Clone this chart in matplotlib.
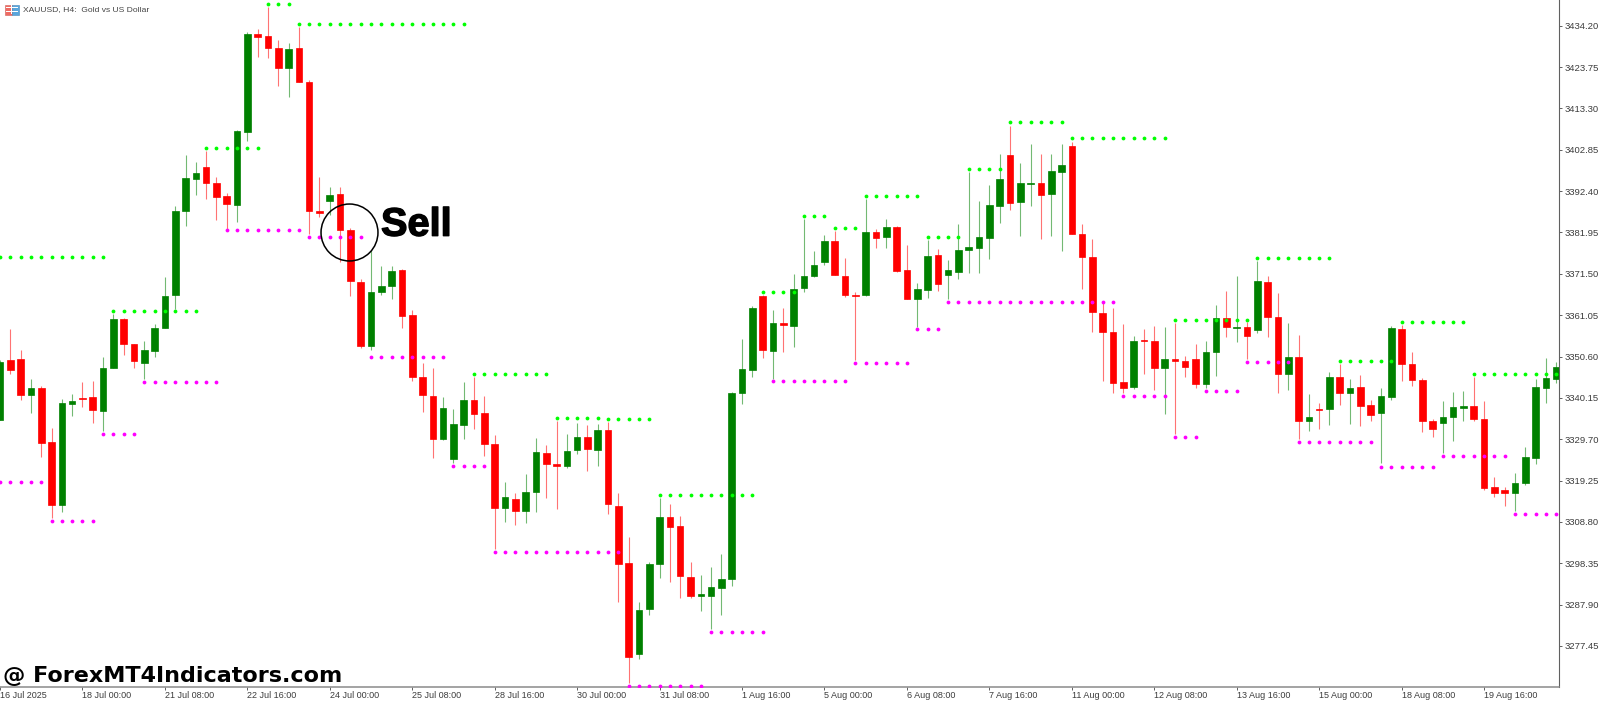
import matplotlib
matplotlib.use("Agg")
import matplotlib.pyplot as plt
import matplotlib.patheffects as pe
from matplotlib.patches import Rectangle

directions = ("GRRGRRGGRR" "GGRRGGGGGG" "RRRGGRRRGR" "RRGRRRGGGR"
              "RRRGGGRRRG" "RGGRRGGRGR" "RRGGGRRRGG" "GGGGRGRGGG"
              "GRRRGRGRRG" "GRGGGGGGRG" "GRGGRRRRRR" "GRRGRRRGGR"
              "GRGRRGRGRG" "RGRRGGRRRR" "GGGRRRRGGG" "GG")

highs = [
 3349.7,3357.5,3352.2,3344.8,3343.1,3332.6,3339.9,3341.0,3344.2,3344.4,
 3350.4,3361.3,3360.3,3353.8,3354.6,3358.8,3370.8,3388.6,3401.5,3399.7,
 3402.6,3395.9,3391.8,3407.8,3432.7,3433.4,3438.8,3430.6,3429.7,3433.8,
 3420.5,3395.9,3393.4,3393.4,3383.0,3370.1,3377.5,3373.5,3373.5,3372.6,
 3362.4,3348.9,3347.6,3340.3,3337.3,3344.1,3345.4,3340.7,3330.8,3318.9,
 3316.0,3320.9,3330.0,3328.2,3334.3,3331.0,3333.9,3333.3,3333.5,3334.1,
 3316.2,3304.9,3288.5,3298.6,3314.9,3313.3,3310.3,3298.6,3295.4,3297.3,
 3300.6,3341.6,3355.0,3363.4,3366.1,3362.3,3362.8,3371.5,3385.4,3377.3,
 3381.3,3382.4,3375.6,3367.0,3390.4,3382.8,3385.4,3383.7,3378.8,3369.3,
 3380.0,3377.8,3375.0,3384.0,3397.2,3389.8,3393.9,3401.8,3408.9,3399.4,
 3404.3,3401.8,3401.7,3404.3,3404.9,3384.1,3380.2,3364.0,3362.9,3358.8,
 3355.8,3357.6,3358.3,3358.0,3359.1,3350.8,3353.8,3354.4,3363.5,3367.2,
 3370.9,3359.4,3374.7,3370.9,3366.6,3359.1,3356.0,3341.1,3338.8,3346.8,
 3348.7,3345.0,3345.9,3339.6,3342.6,3358.3,3358.6,3351.7,3345.1,3334.9,
 3339.3,3341.7,3341.9,3345.4,3339.3,3320.2,3317.6,3321.1,3327.7,3344.8,
 3350.1,3349.1]

body_tops = [
 3349.2,3349.7,3350.0,3342.7,3342.7,3328.9,3338.9,3339.4,3340.0,3340.3,
 3347.6,3360.0,3360.0,3353.8,3352.3,3357.8,3366.0,3387.4,3395.6,3396.9,
 3398.6,3394.4,3391.1,3407.7,3432.1,3432.1,3431.6,3428.6,3428.3,3428.5,
 3420.0,3387.4,3391.3,3391.6,3382.6,3369.5,3366.9,3368.4,3372.2,3372.5,
 3361.1,3345.5,3340.6,3337.5,3333.5,3339.6,3339.6,3336.3,3328.4,3315.0,
 3314.7,3316.4,3326.4,3326.2,3323.4,3326.7,3330.3,3330.2,3332.1,3332.1,
 3312.9,3298.4,3286.5,3298.2,3310.0,3310.0,3307.8,3295.0,3290.5,3292.3,
 3294.3,3341.4,3347.4,3362.9,3366.0,3359.0,3359.0,3367.7,3371.0,3373.7,
 3379.8,3379.8,3371.0,3366.2,3382.1,3382.1,3383.4,3383.4,3372.5,3367.6,
 3376.1,3376.2,3372.4,3377.5,3378.3,3380.8,3388.8,3395.5,3401.5,3394.4,
 3394.5,3394.4,3397.5,3398.9,3403.9,3381.6,3375.8,3361.6,3356.9,3344.2,
 3354.6,3354.7,3354.4,3350.0,3350.0,3349.5,3350.0,3351.8,3360.3,3360.3,
 3358.1,3358.0,3369.6,3369.4,3360.5,3350.6,3350.5,3335.3,3337.3,3345.4,
 3345.4,3342.6,3342.9,3338.4,3340.7,3357.7,3357.6,3348.7,3344.7,3334.3,
 3335.2,3337.8,3338.2,3338.1,3334.8,3317.5,3316.9,3318.7,3325.1,3342.8,
 3345.1,3347.9]

body_bottoms = [
 3334.6,3347.2,3340.8,3340.8,3328.7,3313.2,3313.2,3338.7,3339.9,3337.1,
 3336.9,3347.6,3353.8,3349.5,3349.0,3352.1,3357.7,3366.1,3387.4,3395.5,
 3394.4,3391.0,3389.1,3388.9,3407.4,3431.4,3428.6,3423.6,3423.6,3420.0,
 3387.4,3386.9,3389.9,3382.5,3369.7,3353.3,3353.3,3366.9,3368.5,3360.8,
 3345.4,3340.9,3329.8,3329.8,3324.7,3333.3,3336.1,3328.4,3312.2,3312.2,
 3311.6,3311.5,3316.4,3323.4,3323.0,3323.0,3327.0,3327.2,3327.0,3313.3,
 3298.2,3274.6,3275.5,3286.8,3298.2,3307.6,3295.1,3290.2,3290.0,3290.2,
 3292.1,3294.5,3341.3,3347.2,3352.3,3352.1,3358.5,3358.4,3367.8,3371.0,
 3374.5,3371.1,3366.1,3366.0,3366.1,3380.5,3380.9,3372.3,3365.1,3365.1,
 3367.5,3368.9,3371.2,3372.0,3377.6,3378.0,3380.5,3388.6,3389.5,3389.7,
 3394.2,3391.4,3391.6,3397.2,3381.5,3375.8,3361.9,3356.8,3344.0,3342.6,
 3343.0,3354.4,3347.8,3347.8,3349.5,3347.9,3343.6,3343.6,3351.7,3358.1,
 3357.7,3355.8,3357.3,3360.5,3346.2,3346.2,3334.3,3334.3,3337.0,3337.3,
 3341.3,3341.3,3338.2,3335.9,3336.4,3340.4,3348.6,3344.7,3334.3,3332.4,
 3333.8,3335.2,3337.6,3334.7,3317.4,3316.0,3316.0,3316.0,3318.6,3324.9,
 3342.7,3345.0]

lows = [
 3334.5,3346.3,3339.7,3336.3,3325.2,3309.8,3311.3,3335.6,3337.9,3333.8,
 3331.9,3347.6,3351.0,3347.6,3344.9,3350.6,3357.7,3362.5,3383.6,3391.4,
 3390.5,3385.1,3382.6,3384.7,3405.1,3426.4,3426.1,3419.0,3416.3,3420.0,
 3381.5,3385.8,3386.4,3374.6,3365.9,3352.7,3352.3,3366.1,3365.1,3357.9,
 3344.4,3336.7,3325.0,3329.5,3323.6,3329.8,3332.3,3325.5,3301.9,3308.7,
 3308.1,3308.6,3311.3,3314.9,3312.0,3322.5,3326.0,3321.7,3323.0,3310.7,
 3288.6,3268.1,3274.1,3285.3,3294.6,3293.7,3289.6,3289.7,3286.4,3281.7,
 3285.3,3292.7,3338.6,3345.5,3350.3,3345.0,3351.7,3353.1,3367.0,3370.6,
 3373.7,3371.1,3365.7,3349.7,3365.9,3378.1,3378.1,3372.0,3365.1,3358.1,
 3365.5,3367.2,3365.1,3370.1,3371.6,3371.8,3375.3,3384.3,3387.6,3381.1,
 3388.6,3380.3,3381.1,3377.3,3381.5,3367.6,3356.9,3344.5,3341.5,3341.3,
 3342.5,3346.2,3342.1,3336.1,3331.0,3345.5,3342.6,3342.6,3345.7,3355.5,
 3354.2,3349.9,3356.6,3355.5,3341.5,3342.1,3329.7,3331.9,3332.2,3333.3,
 3338.4,3333.5,3333.0,3334.4,3323.6,3339.6,3344.5,3343.1,3331.6,3330.2,
 3326.1,3329.3,3334.4,3334.3,3316.9,3315.0,3312.8,3311.6,3318.1,3323.5,
 3338.9,3344.0]

res_starts = [0, 11, 20, 26, 29, 46, 54, 59, 64, 74, 78, 81, 84, 90, 94, 98, 104, 114, 122, 130, 136, 143]
res_ends = [10, 19, 25, 28, 45, 53, 58, 63, 73, 77, 80, 83, 89, 93, 97, 103, 113, 121, 129, 135, 142, 151]
res_levels = [3375.7, 3362.0, 3403.4, 3439.7, 3434.5, 3346.1, 3335.0, 3334.8, 3315.6, 3367.0, 3386.1,
              3383.2, 3391.2, 3380.8, 3398.0, 3409.8, 3405.8, 3359.9, 3375.6, 3349.5, 3359.2, 3346.1]

sup_starts = [0, 5, 10, 14, 22, 30, 36, 44, 48, 61, 69, 75, 83, 89, 92, 109, 114, 117, 121, 126, 134, 140, 147]
sup_ends = [4, 9, 13, 21, 29, 35, 43, 47, 60, 68, 74, 82, 88, 91, 108, 113, 116, 120, 125, 133, 139, 146, 151]
sup_levels = [3318.9, 3309.1, 3331.1, 3344.1, 3382.6, 3380.7, 3350.6, 3322.9, 3301.1, 3267.4, 3280.9,
              3344.3, 3349.0, 3357.5, 3364.4, 3340.6, 3330.3, 3341.9, 3349.1, 3329.0, 3322.8, 3325.4, 3310.7]

y_ticks = [3434.20, 3423.75, 3413.30, 3402.85, 3392.40, 3381.95, 3371.50, 3361.05,
           3350.60, 3340.15, 3329.70, 3319.25, 3308.80, 3298.35, 3287.90, 3277.45]
x_tick_bars = list(range(0, 145, 8))
x_tick_labels = ["16 Jul 2025", "18 Jul 00:00", "21 Jul 08:00", "22 Jul 16:00", "24 Jul 00:00",
                 "25 Jul 08:00", "28 Jul 16:00", "30 Jul 00:00", "31 Jul 08:00", "1 Aug 16:00",
                 "5 Aug 00:00", "6 Aug 08:00", "7 Aug 16:00", "11 Aug 00:00", "12 Aug 08:00",
                 "13 Aug 16:00", "15 Aug 00:00", "18 Aug 08:00", "19 Aug 16:00"]

W, H = 1600, 702
PLOT_R, PLOT_B = 1559.3, 686.7
BAR_PX = 10.31
UP, DOWN = "#008000", "#ff0000"
LABEL = "#3c3c3c"

plt.rcParams["font.family"] = ["Liberation Sans", "DejaVu Sans"]
fig = plt.figure(figsize=(W / 100, H / 100), dpi=100, facecolor="white")
ax = fig.add_axes([0, 1 - PLOT_B / H, PLOT_R / W, PLOT_B / H])
ax.set_xlim(0.058, 0.058 + PLOT_R / BAR_PX)
ax.set_ylim(3267.16, 3440.69)

bars = range(len(directions))
colors = [UP if d == "G" else DOWN for d in directions]
ax.vlines(list(bars), lows, highs, colors=colors, linewidth=0.8, alpha=0.55, zorder=2)
ax.bar(list(bars), [t - b for t, b in zip(body_tops, body_bottoms)], bottom=body_bottoms,
       width=6.6 / BAR_PX, color=colors, edgecolor=colors, linewidth=0.5, zorder=3)

for starts, ends, levels, col in ((res_starts, res_ends, res_levels, "#00ff00"),
                                  (sup_starts, sup_ends, sup_levels, "#ff00ff")):
    for s, e, lv in zip(starts, ends, levels):
        xs = list(range(s, e + 1))
        ax.scatter(xs, [lv] * len(xs), s=7.5, color=col, linewidths=0, zorder=4)

# signal circle and label
ax.plot([33.9], [3382.1], marker="o", ms=41, mfc="none", mec="black", mew=1.1, ls="none", zorder=5)
fig.text(381 / W, 1 - 235.7 / H, "Sell", fontsize=28.6, fontweight="bold", color="black",
         family="Liberation Sans", ha="left", va="baseline", zorder=6,
         path_effects=[pe.withStroke(linewidth=1.0, foreground="black")])

fig.text(3 / W, 1 - 681.7 / H, "@ ForexMT4Indicators.com", fontsize=16.0, fontweight="bold",
         color="black", family="DejaVu Sans", ha="left", va="baseline", zorder=6)

# header
fig.text(23 / W, 1 - 10 / H, "XAUUSD, H4:  Gold vs US Dollar", fontsize=6.1, color="#444444",
         ha="left", va="center")
fig.add_artist(Rectangle((4.5 / W, 1 - 14.5 / H), 7 / W, 10 / H, transform=fig.transFigure,
                         facecolor="#ef6a62", edgecolor="#d0605a", linewidth=0.4))
fig.add_artist(Rectangle((11.5 / W, 1 - 14.5 / H), 7 / W, 10 / H, transform=fig.transFigure,
                         facecolor="#5aa6dc", edgecolor="#4a88b8", linewidth=0.4))
for row_y in (7.8, 11.2):
    fig.add_artist(Rectangle((5.5 / W, 1 - (row_y + 0.5) / H), 12 / W, 1 / H, transform=fig.transFigure,
                             facecolor="white", edgecolor="none"))
fig.add_artist(Rectangle((11 / W, 1 - 13.5 / H), 1 / W, 8 / H, transform=fig.transFigure,
                         facecolor="white", edgecolor="none"))

# axes furniture
for side in ("top", "left"):
    ax.spines[side].set_visible(False)
ax.spines["right"].set_color("#606060")
ax.spines["right"].set_linewidth(0.8)
ax.spines["bottom"].set_color("#8a8a8a")
ax.spines["bottom"].set_linewidth(1.1)

ax.yaxis.tick_right()
ax.set_yticks(y_ticks)
ax.set_yticklabels([f"{v:.2f}" for v in y_ticks])
ax.tick_params(axis="y", length=2.2, width=0.7, color="#606060", pad=1.4, labelsize=6.8, labelcolor=LABEL)
ax.set_xticks(x_tick_bars)
ax.set_xticklabels(x_tick_labels, ha="left")
ax.tick_params(axis="x", length=1.8, width=0.7, color="#606060", pad=1.6, labelsize=6.5, labelcolor=LABEL)

fig.savefig("out.png", dpi=100, facecolor="white")
